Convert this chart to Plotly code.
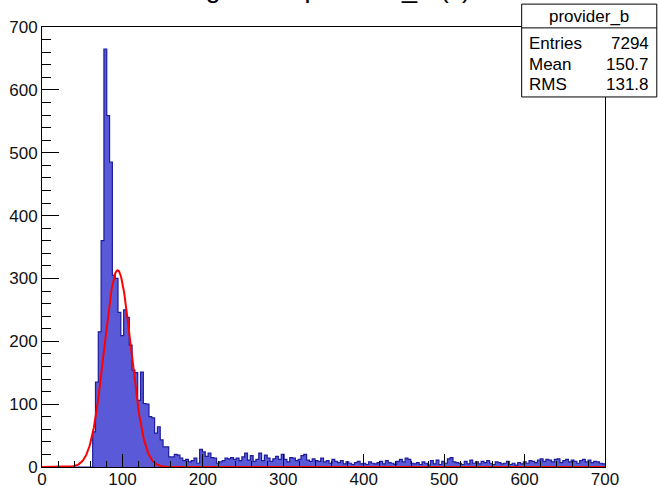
import numpy as np
import plotly.graph_objects as go

# Histogram binning
x_min, x_max, n_bins = 0.0, 700.0, 200

# Bin contents, bins 0..199 (width 3.5)
counts = [
    0, 0, 0, 0, 0, 0, 0, 0, 0, 0,
    0, 0, 0, 0, 0, 0, 0, 0, 56, 135,
    215, 360, 665, 559, 485, 305, 300, 246, 209, 250,
    238, 194, 154, 150, 106, 151, 101, 100, 80, 78,
    54, 64, 43, 32, 32, 16, 16, 20, 19, 14,
    10, 12, 8, 10, 14, 6, 28, 24, 17, 22,
    15, 14, 6, 8, 10, 14, 13, 15, 12, 14,
    10, 16, 22, 11, 18, 9, 12, 22, 10, 19,
    14, 9, 13, 17, 12, 20, 12, 8, 15, 14,
    10, 12, 18, 20, 11, 9, 13, 10, 9, 14,
    8, 10, 6, 12, 9, 7, 10, 5, 8, 6,
    4, 7, 9, 5, 6, 4, 8, 6, 5, 7,
    9, 5, 10, 7, 6, 4, 9, 12, 8, 14,
    12, 6, 5, 7, 4, 8, 6, 3, 10, 5,
    11, 4, 9, 6, 13, 15, 8, 7, 6, 4,
    9, 5, 11, 6, 8, 5, 9, 7, 10, 6,
    4, 8, 7, 5, 6, 9, 4, 6, 3, 7,
    5, 8, 6, 10, 9, 7, 11, 13, 9, 12,
    11, 8, 12, 13, 7, 10, 12, 8, 11, 9,
    6, 10, 12, 8, 11, 7, 9, 8, 6, 5,
]

# Gaussian fit parameters
fit_constant, fit_mean, fit_sigma = 313.0, 94.0, 16.5

# Statistics box
stats_name = "provider_b"
stats_rows = [("Entries", "7294"), ("Mean", "150.7"), ("RMS", "131.8")]
title_text = "Histogram of provider_b (s)"

tick_vals = [0, 100, 200, 300, 400, 500, 600, 700]

FONT = "Liberation Sans, Arial, Helvetica, sans-serif"
FILL = "#5a5ad8"
EDGE = "#1c1c9c"

edges = np.linspace(x_min, x_max, n_bins + 1)
step_y = list(counts) + [counts[-1]]

fig = go.Figure()
fig.add_trace(go.Scatter(
    x=edges, y=step_y, mode="lines",
    line=dict(shape="hv", color=EDGE, width=1.2),
    fill="tozeroy", fillcolor=FILL, hoverinfo="skip",
))

xf = np.linspace(x_min, x_max, 1401)
yf = fit_constant * np.exp(-0.5 * ((xf - fit_mean) / fit_sigma) ** 2)
fig.add_trace(go.Scatter(
    x=xf, y=yf, mode="lines",
    line=dict(color="#ff0000", width=2), hoverinfo="skip",
))

axis_common = dict(
    range=[0, 700], tickvals=tick_vals, ticks="inside", tickcolor="black",
    showline=True, linecolor="black", linewidth=1, mirror=True,
    showgrid=False, zeroline=False, automargin=False,
    tickfont=dict(family=FONT, size=17, color="#111"),
)

fig.update_layout(
    width=659, height=487,
    margin=dict(l=42, r=54, t=27, b=20),
    paper_bgcolor="white", plot_bgcolor="white",
    showlegend=False,
    xaxis=dict(**axis_common, ticklen=13, ticklabelstandoff=-3,
               minor=dict(dtick=20, ticks="inside", ticklen=6, tickcolor="black", showgrid=False)),
    yaxis=dict(**axis_common, ticklen=17,
               minor=dict(dtick=20, ticks="inside", ticklen=9, tickcolor="black", showgrid=False)),
)

# Stats box geometry (paper coordinates)
bx0, bx1, by0, by1, bsep = 0.852, 1.092, 0.841, 1.052, 0.998
fig.add_shape(type="rect", xref="paper", yref="paper", x0=bx0, x1=bx1, y0=by0, y1=by1,
              fillcolor="white", line=dict(color="black", width=1), layer="above")
fig.add_shape(type="line", xref="paper", yref="paper", x0=bx0, x1=bx1, y0=bsep, y1=bsep,
              line=dict(color="black", width=1), layer="above")

annotations = [
    dict(text=stats_name, x=(bx0 + bx1) / 2, y=1.025, xanchor="center", yanchor="middle"),
]
row_y = [0.9636, 0.9159, 0.8682]
for (label, value), ry in zip(stats_rows, row_y):
    annotations.append(dict(text=label, x=0.8615, y=ry, xanchor="left", yanchor="middle"))
    annotations.append(dict(text=value, x=1.0817, y=ry, xanchor="right", yanchor="middle"))
for a in annotations:
    a.update(xref="paper", yref="paper", showarrow=False,
             font=dict(family=FONT, size=17, color="black"))
    fig.add_annotation(**a)

fig.add_annotation(text=title_text, xref="paper", yref="paper", x=0.4707, y=1.050,
                   xanchor="center", yanchor="bottom", showarrow=False,
                   font=dict(family=FONT, size=27, color="black"))

fig.write_html("out.html")
